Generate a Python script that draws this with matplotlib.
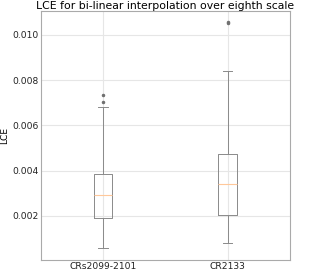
import matplotlib
matplotlib.use("Agg")
import matplotlib.pyplot as plt

# box statistics
labels = ["CRs2099-2101", "CR2133"]
q1 = [0.00188, 0.00201]
median = [0.00293, 0.00342]
q3 = [0.00386, 0.00471]
whislo = [0.00057, 0.00077]
whishi = [0.00679, 0.00840]
fliers = [[0.00702, 0.00734], [0.01054, 0.01058]]

stats = []
for i, lab in enumerate(labels):
    stats.append({"label": lab, "q1": q1[i], "med": median[i], "q3": q3[i],
                  "whislo": whislo[i], "whishi": whishi[i], "fliers": fliers[i]})

fig, ax = plt.subplots(figsize=(3.23, 2.7), dpi=100)
fig.subplots_adjust(left=0.126, right=0.898, top=0.96, bottom=0.038)

line = {"color": "#8a8a8a", "linewidth": 0.7}
ax.bxp(stats,
       boxprops=line, whiskerprops=line, capprops=line,
       medianprops={"color": "#ffc89a", "linewidth": 0.8},
       flierprops={"marker": "o", "markersize": 1.5, "markerfacecolor": "#707070",
                   "markeredgecolor": "#707070"})

ax.set_ylim(0.00005, 0.01107)
ax.set_yticks([0.002, 0.004, 0.006, 0.008, 0.010])
ax.grid(True, color="#e6e6e6", linewidth=0.8)
ax.set_axisbelow(True)
for s in ax.spines.values():
    s.set_color("#aaaaaa")
    s.set_linewidth(0.8)
ax.tick_params(length=0, labelsize=6.6, pad=1.5, colors="#222222")
ax.set_ylabel("LCE", fontsize=6.6, labelpad=2)
ax.set_title("LCE for bi-linear interpolation over eighth scale", fontsize=7.8, pad=1.5)

fig.savefig("out.png", dpi=100)
